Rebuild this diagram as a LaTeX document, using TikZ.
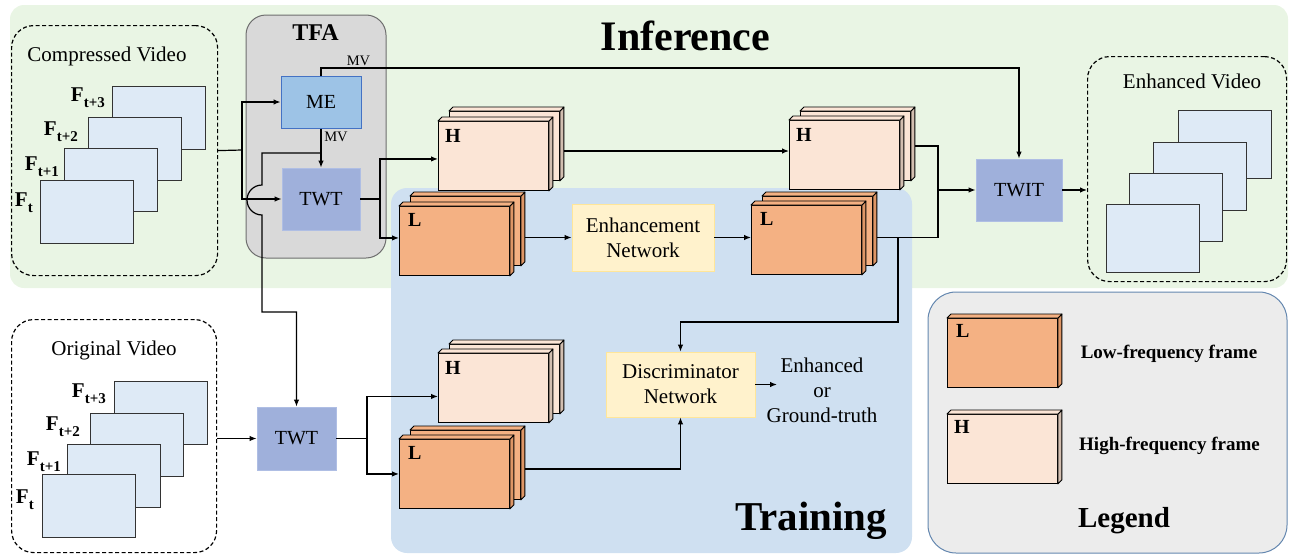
\documentclass[tikz,border=0pt]{standalone}
\usepackage{fontspec}
\setmainfont{Liberation Serif}
\usetikzlibrary{arrows.meta,calc}
\definecolor{infgreen}{RGB}{233,245,228}
\definecolor{trainblue}{RGB}{207,224,241}
\definecolor{legendfill}{RGB}{236,236,236}
\definecolor{legendborder}{RGB}{100,135,175}
\definecolor{tfafill}{RGB}{217,217,217}
\definecolor{tfaborder}{RGB}{110,110,110}
\definecolor{framefill}{RGB}{222,234,246}
\definecolor{mefill}{RGB}{157,195,230}
\definecolor{meborder}{RGB}{68,114,196}
\definecolor{twtfill}{RGB}{159,176,219}
\definecolor{twtborder}{RGB}{175,190,228}
\definecolor{netfill}{RGB}{255,242,204}
\definecolor{netborder}{RGB}{255,230,153}
\definecolor{hfill}{RGB}{251,229,214}
\definecolor{hside}{RGB}{210,190,176}
\definecolor{lfill}{RGB}{244,177,131}
\definecolor{lside}{RGB}{222,150,102}
\tikzset{
  ln/.style={line width=1.2pt},
  arr/.style={line width=1.2pt,-{Latex[length=7pt,width=5.5pt]}},
  vframe/.style={draw=black!80, fill=framefill, line width=1pt, minimum width=93pt, minimum height=63pt, anchor=north west, inner sep=0pt},
  dashbox/.style={draw, dash pattern=on 4pt off 2.5pt, line width=1.2pt, rounded corners=22pt, anchor=north west, inner sep=0pt},
  mebox/.style={draw=meborder, fill=mefill, line width=1pt, font=\fontsize{20pt}{23pt}\selectfont},
  twtbox/.style={draw=twtborder, fill=twtfill, line width=0.8pt, font=\fontsize{20pt}{23pt}\selectfont},
  netbox/.style={draw=netborder, fill=netfill, line width=0.8pt, align=center, font=\fontsize{21pt}{25pt}\selectfont},
  slabface/.style={draw=black, line width=0.9pt, minimum width=110pt, minimum height=69pt, inner sep=0pt, anchor=north west},
  slablab/.style={anchor=north west, inner sep=0pt, font=\fontsize{20pt}{20pt}\selectfont\bfseries},
  flab/.style={anchor=north east, inner sep=0pt, font=\fontsize{21pt}{21pt}\selectfont\bfseries},
  vtitle/.style={anchor=base, font=\fontsize{21pt}{21pt}\selectfont},
  mvlab/.style={inner sep=0pt, font=\fontsize{14.5pt}{14.5pt}\selectfont},
}
\newcommand{\Fsub}[1]{F\raisebox{-5.5pt}{\fontsize{15pt}{15pt}\selectfont #1}}
% name, x, y, face colour, side colour
\newcommand{\mkslab}[5]{%
  \node[slabface, fill=#4] (#1) at (#2,#3) {};
  \filldraw[fill=#5, draw=black, line width=0.9pt, line join=round] (#1.north east) -- ++(4pt,4pt) -- ([shift={(4pt,4pt)}]#1.south east) -- (#1.south east) -- cycle;
  \filldraw[fill=#4, draw=black, line width=0.9pt, line join=round] (#1.north west) -- ++(4pt,4pt) -- ([shift={(4pt,4pt)}]#1.north east) -- (#1.north east) -- cycle;
}
\begin{document}
\begin{tikzpicture}[x=1pt,y=-1pt]
\useasboundingbox (0,0) rectangle (1292,554);
% backgrounds
\fill[infgreen, rounded corners=14pt] (10,5) rectangle (1288,288);
\fill[trainblue, rounded corners=16pt] (391,188) rectangle (912,553);
\draw[legendborder, fill=legendfill, line width=1pt, rounded corners=28pt] (928,292) rectangle (1287,553);
\draw[tfaborder, fill=tfafill, line width=1pt, rounded corners=20pt] (246,15) rectangle (386,258);
% titles
\node[anchor=base, font=\fontsize{42pt}{42pt}\selectfont\bfseries] (tinf) at (685.5,50) {Inference};
\node[anchor=base, font=\fontsize{41pt}{41pt}\selectfont\bfseries] (ttrain) at (811,530) {Training};
\node[anchor=base, font=\fontsize{29pt}{29pt}\selectfont\bfseries] (tleg) at (1124,527) {Legend};
\node[anchor=base, font=\fontsize{24pt}{24pt}\selectfont\bfseries] (ttfa) at (315.5,40) {TFA};
% dashed video boxes
\node[dashbox, minimum width=206pt, minimum height=250pt] (cv) at (11,25) {};
\node[dashbox, minimum width=205pt, minimum height=233pt] (ov) at (11,319) {};
\node[dashbox, minimum width=199pt, minimum height=225pt] (ev) at (1087,56) {};
\node[vtitle] (cvt) at (107,61) {Compressed Video};
\node[vtitle] (ovt) at (114,355) {Original Video};
\node[vtitle] (evt) at (1192,88) {Enhanced Video};
% compressed frames
\node[vframe] (c3) at (112,86) {};
\node[vframe] (c2) at (88,117) {};
\node[vframe] (c1) at (64,148) {};
\node[vframe] (c0) at (40,180) {};
\node[flab] (lc3) at ([shift={(-7,2)}]c3.north west) {\Fsub{t+3}};
\node[flab] (lc2) at ([shift={(-10,5)}]c2.north west) {\Fsub{t+2}};
\node[flab] (lc1) at ([shift={(-5,9)}]c1.north west) {\Fsub{t+1}};
\node[flab] (lc0) at ([shift={(-7,13)}]c0.north west) {\Fsub{t}};
% original frames
\node[vframe] (o3) at (114,381) {};
\node[vframe] (o2) at (90,413) {};
\node[vframe] (o1) at (67,444) {};
\node[vframe] (o0) at (42,474) {};
\node[flab] (lo3) at ([shift={(-8,3)}]o3.north west) {\Fsub{t+3}};
\node[flab] (lo2) at ([shift={(-10,4)}]o2.north west) {\Fsub{t+2}};
\node[flab] (lo1) at ([shift={(-6,8)}]o1.north west) {\Fsub{t+1}};
\node[flab] (lo0) at ([shift={(-8,16)}]o0.north west) {\Fsub{t}};
% enhanced frames
\node[vframe, minimum height=68pt] (e3) at (1178,110) {};
\node[vframe, minimum height=68pt] (e2) at (1153,142) {};
\node[vframe, minimum height=68pt] (e1) at (1129,173) {};
\node[vframe, minimum height=68pt] (e0) at (1106,204) {};
% process boxes
\node[mebox, minimum width=80pt, minimum height=52pt] (me) at (321,102) {ME};
\node[twtbox, minimum width=78pt, minimum height=62pt] (twt) at (321,199) {TWT};
\node[twtbox, minimum width=79pt, minimum height=63pt] (twt2) at (296.5,438.5) {TWT};
\node[twtbox, minimum width=86pt, minimum height=62pt] (twit) at (1019,190) {TWIT};
\node[netbox, minimum width=142pt, minimum height=67pt] (enh) at (643,237.5) {Enhancement\\Network};
\node[netbox, minimum width=149pt, minimum height=65pt] (disc) at (680.5,384.5) {Discriminator\\Network};
% frame stacks
\mkslab{h1b}{449}{111}{hfill}{hside}
\mkslab{h1}{438}{121}{hfill}{hside}
\node[slablab] (h1l) at ([shift={(7,8)}]h1.north west) {H};
\mkslab{l1b}{410}{196}{lfill}{lside}
\mkslab{l1}{399}{206}{lfill}{lside}
\node[slablab] (l1l) at ([shift={(9,7)}]l1.north west) {L};
\mkslab{h2b}{800}{111}{hfill}{hside}
\mkslab{h2}{789}{120}{hfill}{hside}
\node[slablab] (h2l) at ([shift={(7,8)}]h2.north west) {H};
\mkslab{l2b}{762}{196}{lfill}{lside}
\mkslab{l2}{751}{205}{lfill}{lside}
\node[slablab] (l2l) at ([shift={(9,7)}]l2.north west) {L};
\mkslab{h3b}{449}{344}{hfill}{hside}
\mkslab{h3}{438}{353}{hfill}{hside}
\node[slablab] (h3l) at ([shift={(7,8)}]h3.north west) {H};
\mkslab{l3b}{410}{430}{lfill}{lside}
\mkslab{l3}{399}{439}{lfill}{lside}
\node[slablab] (l3l) at ([shift={(9,7)}]l3.north west) {L};
% legend
\mkslab{lgl}{947}{318}{lfill}{lside}
\node[slablab] (lgll) at ([shift={(9,6)}]lgl.north west) {L};
\mkslab{lgh}{947}{414}{hfill}{hside}
\node[slablab] (lghl) at ([shift={(7,6)}]lgh.north west) {H};
\node[anchor=base, font=\fontsize{19pt}{19pt}\selectfont\bfseries] (lowt) at (1169,358) {Low-frequency frame};
\node[anchor=base, font=\fontsize{19pt}{19pt}\selectfont\bfseries] (hight) at (1169.5,450) {High-frequency frame};
% MV labels
\node[mvlab] (mv1) at (336,137) {MV};
\node[mvlab] (mv2) at (358.5,61) {MV};
% result text
\node[align=center, font=\fontsize{21pt}{25pt}\selectfont, inner sep=0pt] (res) at (822,390) {Enhanced\\or\\Ground-truth};
% helper coordinates
\coordinate (ysplit) at (242,150);
\coordinate (mvtop) at (321,68);
\coordinate (j1) at (262,153);
\coordinate (j2) at (262,185);
\coordinate (j3) at (262,312);
\coordinate (s1) at (380,199);
\coordinate (y151) at (0,151);
\coordinate (y146) at (0,146);
\coordinate (jn) at (938,190);
\coordinate (dv) at (898,237.5);
\coordinate (dv2) at (898,322);
\coordinate (s2) at (367,438.5);
\coordinate (y469) at (0,469);
\coordinate (resin) at (777,384.5);
% connectors
\draw[ln] (cv.east) -- (ysplit);
\draw[arr] (ysplit) |- (me.west);
\draw[arr] (ysplit) |- (twt.west);
\draw[arr] (me.south) -- (twt.north);
\draw[arr] (me.north) -- (mvtop) -| (twit.north);
\draw[arr] (twt.north |- j1) -- (j1) -- (j2) arc[start angle=90, end angle=270, radius=15pt] -- (j3) -| (twt2.north);
\draw[ln] (twt.east) -- (s1);
\draw[arr] (s1) |- ([yshift=-3pt]h1.west);
\draw[arr] (s1) |- ([yshift=3pt]l1.west);
\draw[arr] ([xshift=4pt]l1b.east |- enh.west) -- (enh.west);
\draw[arr] (enh.east) -- (l2.west |- enh.west);
\draw[arr] ([xshift=4pt]h1b.east |- y151) -- (h2.west |- y151);
\draw[ln] ([xshift=4pt]h2b.east |- y146) -| (jn);
\draw[ln] ([xshift=4pt]l2b.east |- enh.west) -| (jn);
\draw[arr] (jn) -- (twit.west);
\draw[arr] (dv) -- (dv2) -| (disc.north);
\draw[arr] (twit.east) -- (ev.west |- twit.east);
\draw[arr] (ov.east |- twt2.west) -- (twt2.west);
\draw[ln] (twt2.east) -- (s2);
\draw[arr] (s2) |- ([yshift=-8.5pt]h3.west);
\draw[arr] (s2) |- (l3.west);
\draw[arr] ([xshift=4pt]l3b.east |- y469) -| (disc.south);
\draw[arr] (disc.east) -- (resin);
\end{tikzpicture}
\end{document}
